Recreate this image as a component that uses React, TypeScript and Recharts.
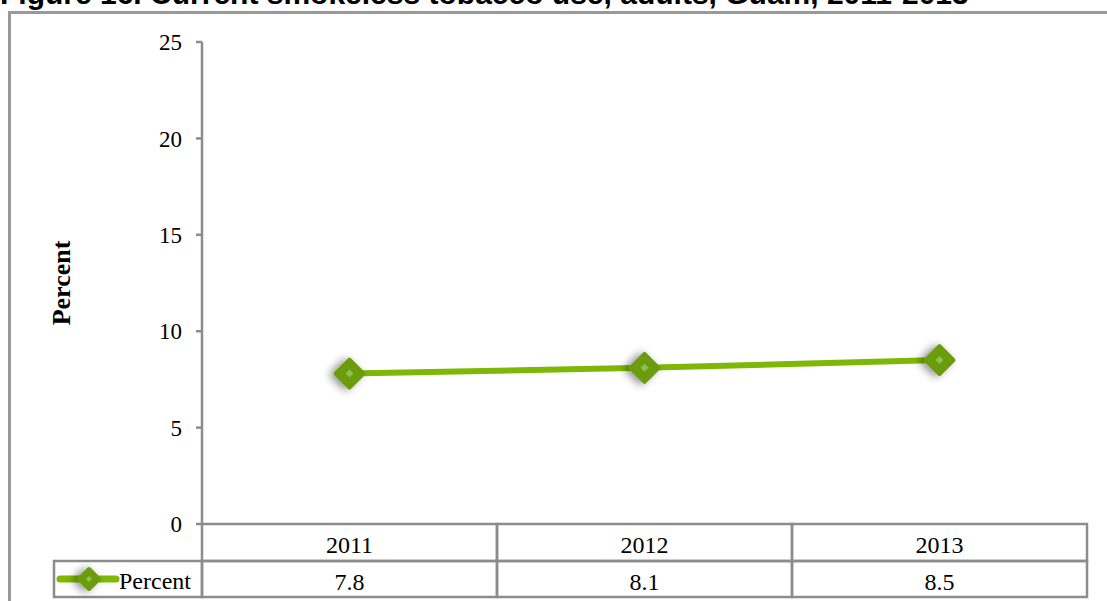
import { LineChart, Line, XAxis, YAxis } from 'recharts'

const YEARS = ['2011', '2012', '2013']
const PERCENT = [7.8, 8.1, 8.5]
const Y_TICKS = [0, 5, 10, 15, 20, 25]
const SERIES_NAME = 'Percent'
const TITLE = 'Figure 16. Current smokeless tobacco use, adults, Guam, 2011-2013'

const data = YEARS.map((year, i) => ({ year, value: PERCENT[i] }))

const W = 1107
const H = 601
const LEFT = 202
const RIGHT = 20
const TOP = 42
const AXIS_H = 77
const BAND = (W - LEFT - RIGHT) / YEARS.length
const ROW = 37
const GRID = '#8c8c8c'
const LINE = '#7cb805'
const MARK = '#6b9c10'
const SERIF = '"Liberation Serif", "DejaVu Serif", serif'

const Diamond = ({ cx, cy, size = 13 }: any) => {
    if (cx == null || cy == null) return null
    const r = size
    const c = Math.round(size * 0.32)
    return (
        <g>
            <path
                d={`M${cx},${cy - r} L${cx + r},${cy} L${cx},${cy + r} L${cx - r},${cy} Z`}
                fill={MARK}
                stroke={MARK}
                strokeWidth={4}
                strokeLinejoin="round"
                filter="url(#shadow)"
            />
            <path
                d={`M${cx},${cy - c} L${cx + c},${cy} L${cx},${cy + c} L${cx - c},${cy} Z`}
                fill="#93be4f"
            />
        </g>
    )
}

// bottom data table drawn as axis ticks
const TableTick = ({ x, y, payload }: any) => {
    const i = payload.index
    const x0 = x - BAND / 2
    return (
        <g>
            <rect x={x0} y={y} width={BAND} height={ROW} fill="none" stroke={GRID} strokeWidth={2.5} />
            <rect x={x0} y={y + ROW} width={BAND} height={ROW - 1} fill="none" stroke={GRID} strokeWidth={2.5} />
            <text x={x} y={y + 29} textAnchor="middle" fontFamily={SERIF} fontSize={24} fill="#000">
                {payload.value}
            </text>
            <text x={x} y={y + ROW + 29} textAnchor="middle" fontFamily={SERIF} fontSize={24} fill="#000">
                {PERCENT[i]}
            </text>
            {i === 0 && (
                <g>
                    <rect x={x0 - 148} y={y + ROW} width={148} height={ROW - 1} fill="none" stroke={GRID} strokeWidth={2.5} />
                    <line x1={x0 - 142} x2={x0 - 86} y1={y + ROW + 18} y2={y + ROW + 18} stroke={LINE} strokeWidth={7} strokeLinecap="round" />
                    <Diamond cx={x0 - 113} cy={y + ROW + 18} size={10} />
                    <text x={x0 - 83} y={y + ROW + 28} fontFamily={SERIF} fontSize={24} fill="#000">
                        {SERIES_NAME}
                    </text>
                </g>
            )}
        </g>
    )
}

export default function App() {
    return (
        <div style={{ position: 'absolute', left: 0, top: 0, width: W, height: H, overflow: 'hidden', background: '#fff' }}>
            <div
                style={{
                    position: 'absolute', left: 8, top: 11, width: 1200, height: 700,
                    border: '3px solid #999', boxSizing: 'border-box',
                }}
            />
            <div
                style={{
                    position: 'absolute', left: 0, top: -23, whiteSpace: 'nowrap', lineHeight: '34px',
                    fontFamily: '"Liberation Sans", Arial, sans-serif', fontWeight: 'bold', fontSize: 30,
                }}
            >
                {TITLE}
            </div>
            <div style={{ position: 'absolute', left: 0, top: 0 }}>
                <LineChart width={W} height={H} data={data} margin={{ top: TOP, right: RIGHT, left: 0, bottom: 0 }}>
                    <defs>
                        <filter id="shadow" x="-60%" y="-60%" width="220%" height="220%">
                            <feGaussianBlur in="SourceAlpha" stdDeviation="4" />
                            <feOffset dx="-4" dy="1" result="b" />
                            <feComponentTransfer>
                                <feFuncA type="linear" slope="0.45" />
                            </feComponentTransfer>
                            <feMerge>
                                <feMergeNode />
                                <feMergeNode in="SourceGraphic" />
                            </feMerge>
                        </filter>
                    </defs>
                    <XAxis
                        dataKey="year"
                        height={AXIS_H}
                        axisLine={false}
                        tickLine={false}
                        tickSize={0}
                        tickMargin={0}
                        interval={0}
                        padding={{ left: BAND / 2, right: BAND / 2 }}
                        tick={<TableTick />}
                    />
                    <YAxis
                        width={LEFT}
                        domain={[0, 25]}
                        ticks={Y_TICKS}
                        interval={0}
                        axisLine={{ stroke: GRID, strokeWidth: 2.5 }}
                        tickLine={{ stroke: GRID, strokeWidth: 2.5 }}
                        tickSize={6}
                        tickMargin={14}
                        tick={{ fill: '#000', fontFamily: SERIF, fontSize: 23 }}
                        label={{
                            content: () => (
                                <text
                                    x={70}
                                    y={283}
                                    transform="rotate(-90 70 283)"
                                    textAnchor="middle"
                                    fontFamily={SERIF}
                                    fontWeight="bold"
                                    fontSize={26}
                                    fill="#000"
                                >
                                    Percent
                                </text>
                            ),
                        }}
                    />
                    <Line
                        dataKey="value"
                        stroke={LINE}
                        strokeWidth={6}
                        dot={<Diamond size={14} />}
                        activeDot={false}
                        isAnimationActive={false}
                    />
                </LineChart>
            </div>
        </div>
    )
}
